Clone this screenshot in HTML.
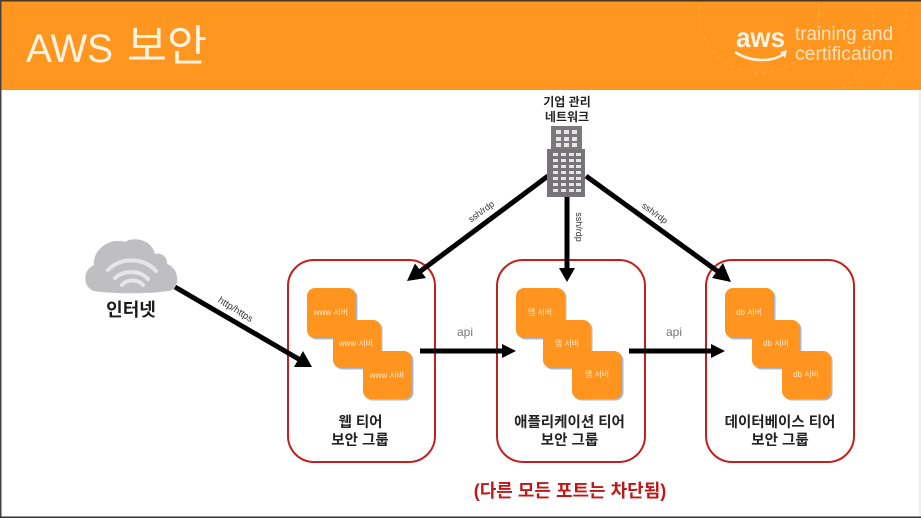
<!DOCTYPE html>
<html lang="ko">
<head>
<meta charset="utf-8">
<style>
html,body{margin:0;padding:0;background:#fff;width:921px;height:518px;overflow:hidden}
svg{display:block;filter:blur(.35px)}
text{font-family:"Liberation Sans","Noto Sans CJK KR",sans-serif}
</style>
</head>
<body>
<svg width="921" height="518" viewBox="0 0 921 518" xmlns="http://www.w3.org/2000/svg">
<rect width="921" height="518" fill="#fff"/>
<rect x="0" y="1" width="921" height="89" fill="#ff961f"/>
<g fill="none" stroke="#ffb25f" stroke-width="1" stroke-dasharray="4 4" opacity=".65">
<circle cx="759" cy="13" r="60"/>
<path d="M870 0C880 40 870 70 840 90"/>
<path d="M906 0C908 30 900 60 880 90"/>
</g>
<rect x="0" y="0" width="921" height="1.5" fill="#4a3520"/>
<rect x="0" y="0" width="1.5" height="518" fill="#444"/>
<rect x="919" y="90" width="2" height="428" fill="#eee"/>
<rect x="0" y="516.5" width="921" height="1.5" fill="#333"/>
<text x="26" y="62" font-size="40" fill="#fff4e4" textLength="87" lengthAdjust="spacingAndGlyphs">AWS</text>
<text x="127" y="61" font-size="43" fill="#fff4e4" textLength="80" lengthAdjust="spacingAndGlyphs">보안</text>
<text x="736" y="47" font-size="28" font-weight="700" fill="#fff4e4" textLength="49" lengthAdjust="spacingAndGlyphs">aws</text>
<path d="M735 52C750 62 772 63 785 53" fill="none" stroke="#fff4e4" stroke-width="2.6"/>
<path d="M780 52L787 50L785 58Z" fill="#fff4e4"/>
<text x="795" y="40" font-size="19" fill="#ffe2bd" textLength="98" lengthAdjust="spacingAndGlyphs">training and</text>
<text x="795" y="60" font-size="19" fill="#ffe2bd" textLength="98" lengthAdjust="spacingAndGlyphs">certification</text>

<!-- security groups -->
<g fill="none" stroke="#c41f1f" stroke-width="2">
<rect x="288" y="260" width="147" height="202" rx="26"/>
<rect x="497" y="260" width="148" height="202" rx="26"/>
<rect x="706" y="260" width="148" height="202" rx="26"/>
</g>

<!-- servers -->
<g fill="#a9b9d0" transform="translate(1.5 1.5)">
<rect x="307" y="288" width="49" height="50" rx="8"/><rect x="333" y="320" width="48" height="48" rx="8"/><rect x="363" y="351" width="49" height="48" rx="8"/>
<rect x="516" y="288" width="49" height="50" rx="8"/><rect x="543" y="320" width="48" height="48" rx="8"/><rect x="572" y="351" width="50" height="48" rx="8"/>
<rect x="725" y="288" width="49" height="50" rx="8"/><rect x="752" y="320" width="48" height="48" rx="8"/><rect x="782" y="351" width="49" height="48" rx="8"/>
</g>
<g fill="#ff951e">
<rect x="307" y="288" width="49" height="50" rx="8"/><rect x="333" y="320" width="48" height="48" rx="8"/><rect x="363" y="351" width="49" height="48" rx="8"/>
<rect x="516" y="288" width="49" height="50" rx="8"/><rect x="543" y="320" width="48" height="48" rx="8"/><rect x="572" y="351" width="50" height="48" rx="8"/>
<rect x="725" y="288" width="49" height="50" rx="8"/><rect x="752" y="320" width="48" height="48" rx="8"/><rect x="782" y="351" width="49" height="48" rx="8"/>
</g>
<g font-size="8" fill="#ffe6c8" text-anchor="middle">
<text x="331" y="315">www 서버</text><text x="356" y="346">www 서버</text><text x="387" y="378">www 서버</text>
<text x="540" y="315">앱 서버</text><text x="567" y="346">앱 서버</text><text x="597" y="377">앱 서버</text>
<text x="749" y="315">db 서버</text><text x="776" y="346">db 서버</text><text x="806" y="377">db 서버</text>
</g>

<!-- arrows -->
<g stroke="#000" stroke-width="5" fill="none">
<line x1="175" y1="287" x2="302" y2="361"/>
<line x1="548" y1="176" x2="418" y2="273"/>
<line x1="567" y1="197" x2="567" y2="270"/>
<line x1="586" y1="176" x2="720" y2="273"/>
<line x1="420" y1="351" x2="503" y2="351"/>
<line x1="629" y1="351" x2="712" y2="351"/>
</g>
<g fill="#000">
<path d="M312 367L294 367L303 351Z"/>
<path d="M407 281L415 263.500L426 278Z"/>
<path d="M567 282L559 268H575Z"/>
<path d="M731 282L712 278L723 263Z"/>
<path d="M516 351L502 344V358Z"/>
<path d="M725 351L711 344V358Z"/>
</g>

<!-- connector labels -->
<g font-size="9" fill="#333" text-anchor="middle">
<text transform="translate(234 312) rotate(32)" font-size="9.500">http/https</text>
<text transform="translate(483 214) rotate(-36)">ssh/rdp</text>
<text transform="translate(576 227) rotate(90)">ssh/rdp</text>
<text transform="translate(653 215.500) rotate(36)">ssh/rdp</text>
</g>
<g font-size="12" fill="#777" text-anchor="middle">
<text x="465" y="336">api</text>
<text x="674" y="336">api</text>
</g>

<!-- building -->
<rect x="551" y="126" width="31" height="24" fill="#7b797e"/>
<rect x="547" y="149" width="38" height="48" fill="#767479"/>
<g fill="#e6e6e6">
<rect x="556" y="130" width="5" height="4"/><rect x="564" y="130" width="5" height="4"/><rect x="572" y="130" width="5" height="4"/>
<rect x="556" y="137" width="5" height="4"/><rect x="564" y="137" width="5" height="4"/><rect x="572" y="137" width="5" height="4"/>
<rect x="556" y="143" width="5" height="4"/><rect x="564" y="143" width="5" height="4"/><rect x="572" y="143" width="5" height="4"/>
<rect x="553" y="153" width="5" height="3"/><rect x="561" y="153" width="5" height="3"/><rect x="569" y="153" width="5" height="3"/><rect x="576" y="153" width="5" height="3"/>
<rect x="553" y="159" width="5" height="3"/><rect x="561" y="159" width="5" height="3"/><rect x="569" y="159" width="5" height="3"/><rect x="576" y="159" width="5" height="3"/>
<rect x="553" y="165" width="5" height="3"/><rect x="561" y="165" width="5" height="3"/><rect x="569" y="165" width="5" height="3"/><rect x="576" y="165" width="5" height="3"/>
<rect x="553" y="171" width="5" height="3"/><rect x="561" y="171" width="5" height="3"/><rect x="569" y="171" width="5" height="3"/><rect x="576" y="171" width="5" height="3"/>
<rect x="553" y="177" width="5" height="3"/><rect x="561" y="177" width="5" height="3"/><rect x="569" y="177" width="5" height="3"/><rect x="576" y="177" width="5" height="3"/>
<rect x="553" y="183" width="5" height="3"/><rect x="561" y="183" width="5" height="3"/><rect x="569" y="183" width="5" height="3"/><rect x="576" y="183" width="5" height="3"/>
<rect x="553" y="189" width="5" height="3"/><rect x="561" y="189" width="5" height="3"/><rect x="569" y="189" width="5" height="3"/><rect x="576" y="189" width="5" height="3"/>
</g>

<!-- cloud -->
<path d="M94 291C83 288 82 270 94 265C92 250 110 237 125 242C134 236 152 240 155 254C162 252 168 258 167 264C180 268 181 290 168 291C150 294 110 294 94 291Z" fill="#bfbfc2"/>
<g fill="none" stroke="#e6e6e7" stroke-linecap="round" stroke-width="4">
<path d="M108 270C120 257 144 257 156 271"/>
<path d="M115 278C124 270 140 270 148 279"/>
<path d="M122 285C127 279 138 279 143 285"/>
</g>

<!-- labels -->
<text x="131" y="316" font-size="18" font-weight="700" fill="#1a1a1a" text-anchor="middle">인터넷</text>
<g font-size="12" font-weight="700" fill="#222" text-anchor="middle">
<text x="567" y="106">기업 관리</text>
<text x="567" y="121">네트워크</text>
</g>
<g font-size="14.500" font-weight="700" fill="#222" text-anchor="middle">
<text x="360.500" y="427">웹 티어</text>
<text x="360" y="445">보안 그룹</text>
<text x="569.500" y="427">애플리케이션 티어</text>
<text x="569.500" y="445">보안 그룹</text>
<text x="780" y="427">데이터베이스 티어</text>
<text x="780" y="445">보안 그룹</text>
</g>
<text x="570" y="497" font-size="18" font-weight="700" fill="#c01818" text-anchor="middle">(다른 모든 포트는 차단됨)</text>
</svg>
</body>
</html>
